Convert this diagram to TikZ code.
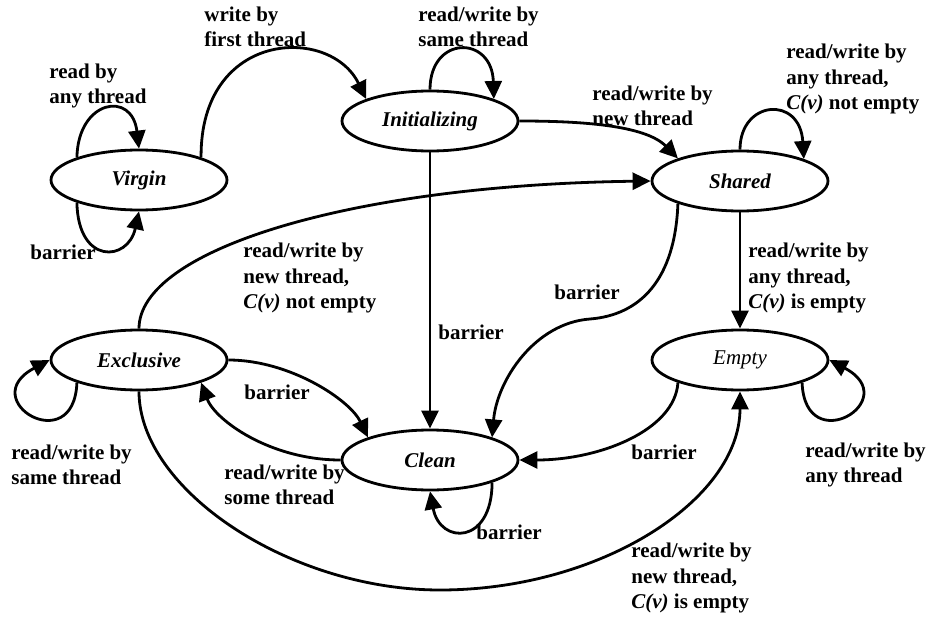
\documentclass[tikz,border=0pt]{standalone}
\usepackage{fontspec}
\setmainfont{Liberation Serif}
\usetikzlibrary{shapes.geometric,arrows.meta}
\tikzset{
    state/.style={shape=ellipse,draw=black,minimum width=176pt,minimum height=60pt,inner sep=0pt,font=\fontsize{21}{25}\selectfont\bfseries\itshape},
    lbl/.style={anchor=west,align=left,inner sep=0pt,font=\fontsize{21}{25.5}\selectfont\bfseries},
    >={Triangle[length=18pt,width=17pt]}
}
\begin{document}
\begin{tikzpicture}[x=1pt,y=-1pt,line width=2.8pt]
        \useasboundingbox (0,0) rectangle (927,618);
        \node[state] (Virgin) at (139,180) {Virgin};
        \node[state] (Initializing) at (430,121) {Initializing};
        \node[state] (Shared) at (740,181) {Shared};
        \node[state] (Exclusive) at (139,360) {Exclusive};
        \node[state] (Clean) at (430,460) {Clean};
        \node[state,font=\fontsize{21}{25}\selectfont\itshape] (Empty) at (740,360) {Empty};
        \draw [->] (Virgin.160) .. controls (78,100) and (132,90) .. (Virgin.90);
        \draw [->] (Virgin.200) .. controls (78,265) and (128,262) .. (Virgin.270);
        \draw [->] (Virgin.20) .. controls (200,30) and (330,25) .. (Initializing.161);
        \draw [->] (Initializing.90) .. controls (430,35) and (492,35) .. (Initializing.19);
        \draw [->] (Initializing.0) .. controls (580,121) and (645,125) .. (Shared.160);
        \draw [->] (Shared.90) .. controls (740,100) and (800,95) .. (Shared.19);
        \draw [->] (Exclusive.90) .. controls (139,250) and (350,185) .. (Shared.180);
        \path [->] (Initializing) edge (Clean);
        \draw [->] (Shared.200) .. controls (675,280) and (640,315) .. (590,319)
                .. controls (535,323) and (497,380) .. (Clean.20);
        \path [->] (Shared) edge (Empty);
        \draw [->] (Empty.200) .. controls (675,430) and (600,460) .. (Clean.0);
        \draw [->] (Empty.340) .. controls (805,460) and (905,400) .. (Empty.0);
        \draw [->] (Exclusive.200) .. controls (74,460) and (-26,400) .. (Exclusive.180);
        \draw [->] (Exclusive.0) .. controls (290,360) and (350,400) .. (Clean.160);
        \draw [->] (Clean.180) .. controls (270,460) and (215,420) .. (Exclusive.340);
        \draw [->] (Clean.340) .. controls (492,545) and (440,545) .. (Clean.270);
        \draw [->] (Exclusive.270) .. controls (139,490) and (290,590) .. (440,590)
                .. controls (600,590) and (740,500) .. (Empty.270);
        \node[lbl] (lVirginRead) at (48,86) {read by\\any thread};
        \node[lbl] (lVirginBarrier) at (29,252) {barrier};
        \node[lbl] (lFirstWrite) at (203,27) {write by\\first thread};
        \node[lbl] (lInitSame) at (417,27) {read/write by\\same thread};
        \node[lbl] (lInitNew) at (591,106) {read/write by\\new thread};
        \node[lbl] (lSharedAny) at (785,79) {read/write by\\any thread,\\\textit{C(v)} not empty};
        \node[lbl] (lExclNew) at (242,278) {read/write by\\new thread,\\\textit{C(v)} not empty};
        \node[lbl] (lInitBarrier) at (437,332) {barrier};
        \node[lbl] (lSharedBarrier) at (553,292) {barrier};
        \node[lbl] (lSharedEmpty) at (747,278) {read/write by\\any thread,\\\textit{C(v)} is empty};
        \node[lbl] (lExclBarrier) at (243,392) {barrier};
        \node[lbl] (lExclSame) at (10,465) {read/write by\\same thread};
        \node[lbl] (lCleanSome) at (223,485) {read/write by\\some thread};
        \node[lbl] (lCleanBarrier) at (475,532) {barrier};
        \node[lbl] (lEmptyBarrier) at (630,452) {barrier};
        \node[lbl] (lEmptyAny) at (804,465) {read/write by\\any thread};
        \node[lbl] (lExclEmpty) at (630,578) {read/write by\\new thread,\\\textit{C(v)} is empty};
    \end{tikzpicture}
\end{document}
